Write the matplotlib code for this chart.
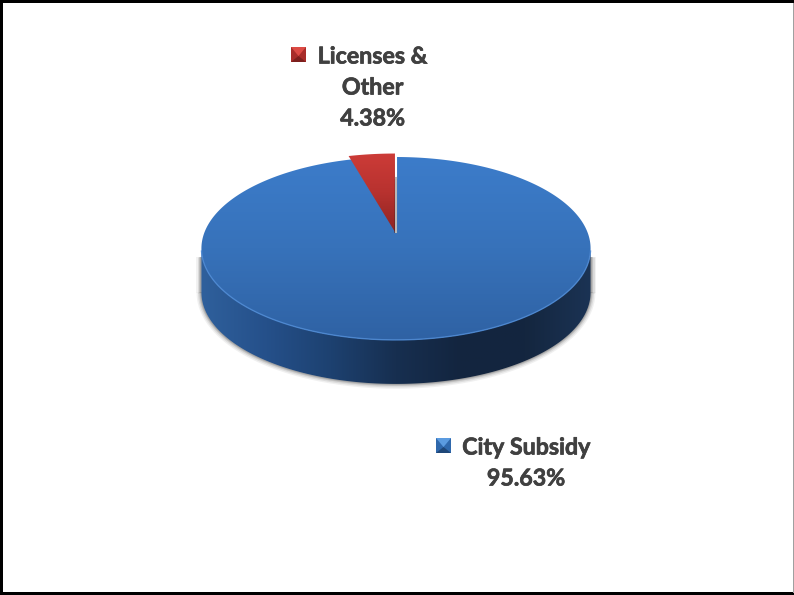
import numpy as np
import matplotlib
matplotlib.use('Agg')
import matplotlib.pyplot as plt
import matplotlib.patheffects as pe
from matplotlib.colors import LinearSegmentedColormap
from matplotlib.patches import Polygon, Rectangle

categories = ['City Subsidy', 'Licenses & Other']
shares = [95.63, 4.38]

plt.rcParams['font.family'] = ['Lato', 'DejaVu Sans']

# tilted disc: unit circle -> pixels
cx, cy = 396, 232
sx, sy = 191.4, 88.5
tilt = 0.18
depth = 44


def project(x, y):
    w = 1 + tilt * y
    return cx + sx * x / w, cy - sy * y / w


def rim(theta, r=1.0):
    t = np.radians(theta)
    return np.column_stack(project(r * np.cos(t), r * np.sin(t)))


def face(wedge):
    # outline of one slice on the tilted disc
    arc = rim(np.linspace(wedge.theta1, wedge.theta2, 600), wedge.r)
    return np.vstack([project(0, 0), arc])


def gradient(ax, colors, extent, clip, vertical=True):
    cmap = LinearSegmentedColormap.from_list('g', colors)
    g = np.linspace(0, 1, 256)
    g = g.reshape(-1, 1) if vertical else g.reshape(1, -1)
    im = ax.imshow(g, cmap=cmap, extent=extent, aspect='auto', interpolation='bilinear',
                   origin='upper', zorder=clip.get_zorder())
    im.set_clip_path(clip)
    return im


fig = plt.figure(figsize=(7.94, 5.95), dpi=100)
ax = fig.add_axes([0, 0, 1, 1])

wedges, _ = ax.pie(shares, startangle=90, counterclock=False)
city, lic = wedges
lic.set_radius(1.055)
city_pts = face(city)
lic_pts = face(lic)
for w in wedges:
    w.set_visible(False)

# side wall of the disc, with a soft grey edge below it
front = rim(np.linspace(190.4, 349.6, 400))
low = front + [0, depth]
wall = np.vstack([front, low[::-1]])
for lw, a in ((7, 0.10), (5, 0.15), (3, 0.25), (1.5, 0.35)):
    ax.plot(low[:, 0], low[:, 1], color='#707070', lw=lw, alpha=a, zorder=1, solid_capstyle='butt')
    ax.plot([front[0, 0], low[0, 0]], [front[0, 1] + 8, low[0, 1]], color='#707070', lw=lw, alpha=a,
            zorder=1, solid_capstyle='butt')
    ax.plot([front[-1, 0], low[-1, 0]], [front[-1, 1] + 8, low[-1, 1]], color='#707070', lw=lw, alpha=a,
            zorder=1, solid_capstyle='butt')
wall_patch = Polygon(wall, closed=True, fc='none', ec='none', transform=ax.transData, zorder=2)
ax.add_patch(wall_patch)
gradient(ax, ['#2f609c', '#25508a', '#1d4170', '#172f50', '#13253f', '#14263f', '#1b3354'],
         [201, 591, 384, 240], wall_patch, vertical=False)

# top faces
city_patch = Polygon(city_pts, closed=True, fc='none', ec='none', transform=ax.transData, zorder=3)
ax.add_patch(city_patch)
gradient(ax, ['#3c7cca', '#3772ba', '#2f62a4'], [195, 597, 340, 157], city_patch)

# lighter line along the front of the top face
edge = rim(np.linspace(192, 348, 300))
ax.plot(edge[:, 0], edge[:, 1], color='#4c88d2', lw=1.0, alpha=0.9, zorder=4)

lic_patch = Polygon(lic_pts - [1, 0], closed=True, fc='none', ec='none', transform=ax.transData, zorder=5)
ax.add_patch(lic_patch)
gradient(ax, ['#cd3c38', '#b8322f', '#8e2421'], [340, 400, 232, 152], lic_patch)

# inner edges of the cut-out slice
ox, oy = lic_pts[1]
tipx, tipy = lic_pts[0]
ax.plot([ox, tipx - 0.5], [oy + 1.5, tipy], color='#4a1512', lw=1.4, zorder=6)
ax.plot([tipx, tipx], [155, 178], color='white', lw=1.5, zorder=6)
ax.plot([tipx, tipx], [178, tipy], color='#b8b8b8', lw=1.5, zorder=6)


def legend_key(ax, x, y, light, mid, dark):
    s = 15
    ax.add_patch(Rectangle((x, y), s, s, fc=mid, ec='none', zorder=6))
    ax.add_patch(Polygon([(x, y), (x + s, y), (x + s / 2, y + s * 0.6)], fc=light, ec='none', zorder=7))
    ax.add_patch(Polygon([(x, y + s), (x + s, y + s), (x + s / 2, y + s * 0.6)], fc=dark, ec='none', zorder=7))


txt = dict(color='#404040', fontsize=16.7, fontweight='bold', ha='center', va='center', zorder=8,
           path_effects=[pe.withStroke(linewidth=0.5, foreground='#404040')])

legend_key(ax, 291, 47, '#dc4a44', '#a82c29', '#7c1f1d')
ax.text(372.5, 57, 'Licenses &', **txt)
ax.text(372.5, 88, 'Other', **txt)
ax.text(372.5, 119, f'{shares[1]:.2f}%', **txt)

legend_key(ax, 436, 438, '#5b9be0', '#2f68ac', '#1f4778')
ax.text(526, 448, categories[0], **txt)
ax.text(526, 479, f'{shares[0]:.2f}%', **txt)

# outer frame
ax.add_patch(Rectangle((0, 0), 794, 3, fc='black', ec='none', zorder=9))
ax.add_patch(Rectangle((0, 0), 3, 595, fc='black', ec='none', zorder=9))
ax.add_patch(Rectangle((0, 592), 794, 3, fc='black', ec='none', zorder=9))
ax.add_patch(Rectangle((792.5, 3), 1.5, 590, fc='#a0a0a0', ec='none', zorder=9))

ax.set_aspect('auto')
ax.set_xlim(0, 794)
ax.set_ylim(595, 0)
ax.axis('off')

plt.savefig('out.png', dpi=100)
plt.close()
